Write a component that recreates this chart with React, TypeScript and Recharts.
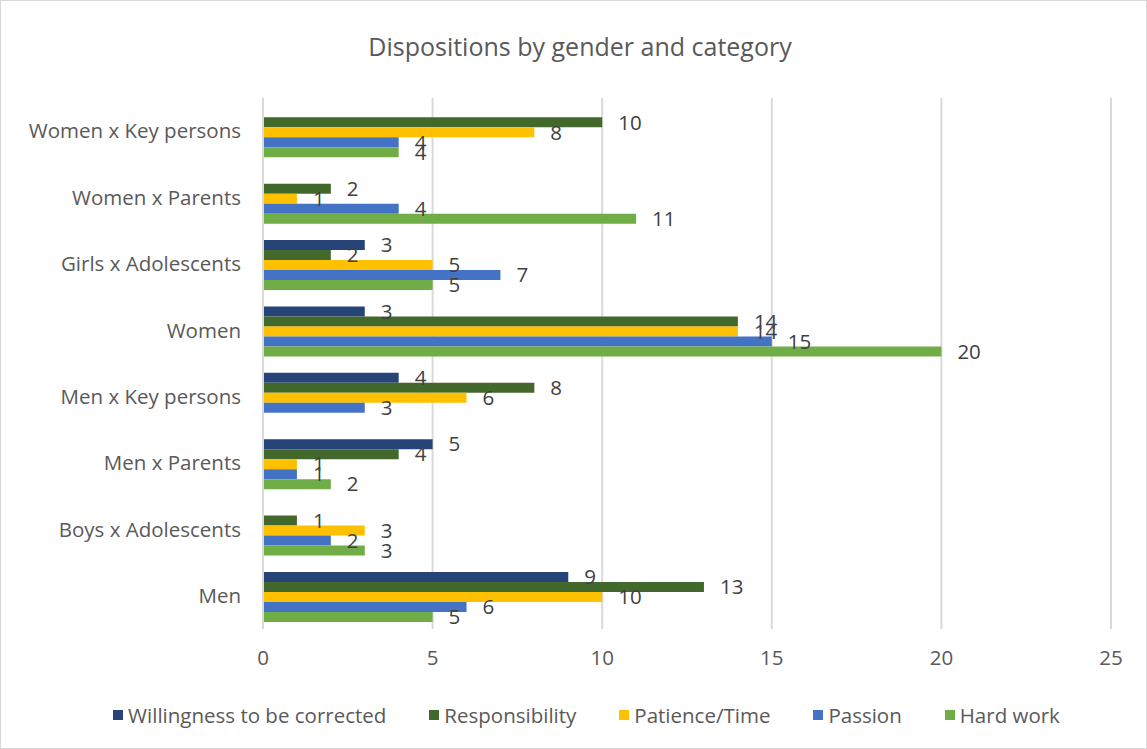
import { BarChart, Bar, XAxis, YAxis, CartesianGrid, Legend, LabelList } from 'recharts';

const categories = [
  'Women x Key persons',
  'Women x Parents',
  'Girls x Adolescents',
  'Women',
  'Men x Key persons',
  'Men x Parents',
  'Boys x Adolescents',
  'Men',
];

const willingness = [null, null, 3, 3, 4, 5, null, 9];
const responsibility = [10, 2, 2, 14, 8, 4, 1, 13];
const patience = [8, 1, 5, 14, 6, 1, 3, 10];
const passion = [4, 4, 7, 15, 3, 1, 2, 6];
const hardWork = [4, 11, 5, 20, null, 2, 3, 5];

const xTicks = [0, 5, 10, 15, 20, 25];

const series = [
  { key: 'willingness', name: 'Willingness to be corrected', color: '#264478' },
  { key: 'responsibility', name: 'Responsibility', color: '#43682B' },
  { key: 'patience', name: 'Patience/Time', color: '#FFC000' },
  { key: 'passion', name: 'Passion', color: '#4472C4' },
  { key: 'hardWork', name: 'Hard work', color: '#70AD47' },
];

const data = categories.map((name, i) => ({
  name,
  willingness: willingness[i],
  responsibility: responsibility[i],
  patience: patience[i],
  passion: passion[i],
  hardWork: hardWork[i],
}));

const FONT = '"Open Sans", "Segoe UI", sans-serif';

function LegendContent() {
  return (
    <div
      style={{
        display: 'flex',
        justifyContent: 'center',
        gap: 43,
        fontFamily: FONT,
        fontSize: 20.5,
        color: '#595959',
        height: 28,
        alignItems: 'center',
        paddingLeft: 26,
      }}
    >
      {series.map((s) => (
        <div key={s.key} style={{ display: 'flex', alignItems: 'center' }}>
          <span style={{ width: 10, height: 10, background: s.color, marginRight: 5, display: 'inline-block' }} />
          {s.name}
        </div>
      ))}
    </div>
  );
}

export default function App() {
  return (
    <div
      style={{
        position: 'absolute',
        left: 0,
        top: 0,
        width: 1147,
        height: 749,
        border: '1px solid #d9d9d9',
        boxSizing: 'border-box',
        background: '#fff',
        fontFamily: FONT,
      }}
    >
      <div
        style={{
          position: 'absolute',
          top: 28,
          left: 0,
          width: 1158,
          textAlign: 'center',
          fontSize: 25,
          color: '#595959',
        }}
      >
        Dispositions by gender and category
      </div>
      <BarChart
        width={1145}
        height={747}
        data={data}
        layout="vertical"
        barGap={0}
        barCategoryGap="14%"
        margin={{ top: 97, right: 35, left: 0, bottom: 51 }}
      >
        <CartesianGrid horizontal={false} stroke="#d9d9d9" strokeWidth={2} />
        <XAxis
          type="number"
          domain={[0, 25]}
          ticks={xTicks}
          axisLine={false}
          tickLine={false}
          tickSize={0}
          tickMargin={21}
          height={40}
          tick={{ fill: '#595959', fontSize: 20.5, fontFamily: FONT }}
        />
        <YAxis
          type="category"
          dataKey="name"
          width={262}
          axisLine={{ stroke: '#d9d9d9', strokeWidth: 2 }}
          tickLine={false}
          tickSize={0}
          tickMargin={22}
          tick={{ fill: '#595959', fontSize: 20.5, fontFamily: FONT }}
        />
        <Legend verticalAlign="bottom" wrapperStyle={{ top: 700, left: 0, width: 1145 }} content={<LegendContent />} />
        {series.map((s) => (
          <Bar key={s.key} dataKey={s.key} name={s.name} fill={s.color} isAnimationActive={false}>
            <LabelList dataKey={s.key} position="right" offset={16} fill="#404040" fontSize={20.5} fontFamily={FONT} />
          </Bar>
        ))}
      </BarChart>
    </div>
  );
}
